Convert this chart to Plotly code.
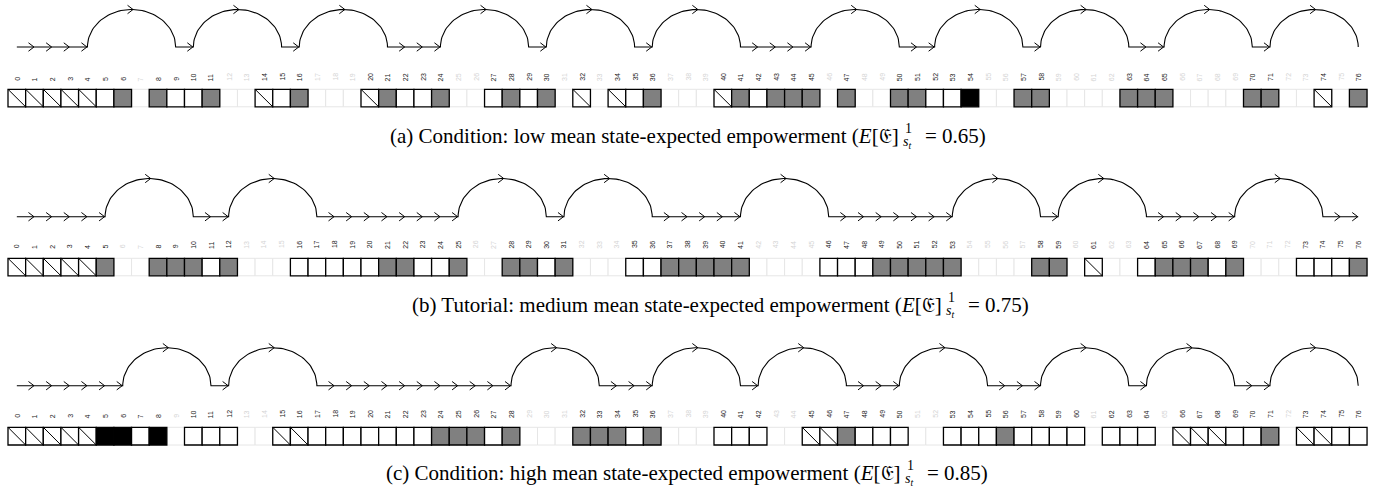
import numpy as np
import plotly.graph_objects as go

W, H = 1385, 489

# ---------------- data ----------------
N_CELLS = 77
cell_ids = list(range(N_CELLS))

# cell state codes: h = hatched, w = white, g = grey, k = black, n = inactive
states_a = list("hhhhhwgngw" "wgnnhwgnnn" "hgwwgnnwgw" "gnhnhwgnnn" "hgwgggngnn"
                "ggwwknnggn" "nnngggnnnn" "ggnnhng")
states_b = list("hhhhhgnngg" "gwgnnnwwww" "wggwwgnngg" "wgnnnwwggg" "ggnnnnwwwg"
                "ggggnnnngg" "nhnnwgggwg" "nnnwwwg")
states_c = list("hhhhhkkwkn" "wwwnnhhwww" "wwwwgggwgn" "nngggwgnnn" "wwwnnhhgww"
                "wnnwwwgwww" "wnwwwnhhhw" "wgnhhww")

# trajectory: indices where a 5-cell jump (arc) starts; all other moves are +1 steps
jump_len = 5
jumps_a = [4, 10, 16, 24, 30, 36, 45, 52, 58, 65, 71]
jumps_b = [5, 12, 25, 31, 41, 53, 59, 69]
jumps_c = [6, 12, 28, 36, 42, 50, 58, 64, 71]

cap_left = ["(a) Condition: low mean state-expected empowerment (<i>E</i>[\U0001D508]",
            "(b) Tutorial: medium mean state-expected empowerment (<i>E</i>[\U0001D508]",
            "(c) Condition: high mean state-expected empowerment (<i>E</i>[\U0001D508]"]
cap_values = ["0.65", "0.75", "0.85"]

# ---------------- layout constants ----------------
X0 = 8.0      # pixel x of left edge of cell 0
CW = 17.65    # pixel width of a cell

rows = [
    dict(states=states_a, jumps=jumps_a, base=47.0, top=9.5, lab=83.0,
         ct=89.3, cb=106.8, cap_y=136.0, capx=901),
    dict(states=states_b, jumps=jumps_b, base=216.7, top=178.5, lab=250.5,
         ct=258.3, cb=275.8, cap_y=304.5, capx=944),
    dict(states=states_c, jumps=jumps_c, base=385.7, top=347.7, lab=420.0,
         ct=427.3, cb=445.0, cap_y=473.0, capx=903),
]

FILL = {"h": "white", "w": "white", "g": "#808080", "k": "black", "n": "white"}

fig = go.Figure()
shapes = []
annotations = []


def px2u(dpx):
    return dpx / CW


for r in rows:
    states = r["states"]
    # ---- cells: inactive first, then active (so black borders stay on top)
    for pass_active in (False, True):
        for i, s in zip(cell_ids, states):
            active = s != "n"
            if active != pass_active:
                continue
            shapes.append(dict(
                type="rect", xref="x", yref="y", x0=i, x1=i + 1, y0=r["ct"], y1=r["cb"],
                fillcolor=FILL[s],
                line=dict(color="black" if active else "#e6e6e6", width=1.3 if active else 1.0),
                layer="above"))
            if s == "h":
                shapes.append(dict(
                    type="line", xref="x", yref="y", x0=i, x1=i + 1, y0=r["ct"], y1=r["cb"],
                    line=dict(color="black", width=1.0), layer="above"))
    # ---- labels
    for i, s in zip(cell_ids, states):
        annotations.append(dict(
            x=i + 0.5, y=r["lab"], xref="x", yref="y", text=str(i), showarrow=False,
            textangle=-90, xanchor="center", yanchor="bottom",
            font=dict(family="Liberation Sans", size=7,
                      color="#1a1a1a" if s != "n" else "#d4d4d4")))

    # ---- trajectory
    base = r["base"]
    hgt = base - r["top"]
    px, py = [0.5], [base]
    cx, cy = [], []

    def chevron(xt, yt):
        cx.extend([xt - px2u(5.5), xt, xt - px2u(5.5), None])
        cy.extend([yt - 4.2, yt, yt + 4.2, None])

    pos = 0
    jset = set(r["jumps"])
    while pos < N_CELLS - 1:
        if pos in jset:
            a = jump_len / 2.0
            xc = pos + 0.5 + a
            t = np.linspace(0, np.pi, 60)
            px.extend(list(xc - a * np.cos(t)))
            py.extend(list(base - hgt * np.sin(t)))
            chevron(xc + px2u(1.5), base - hgt)
            pos += jump_len
        else:
            px.append(pos + 1.5)
            py.append(base)
            chevron(pos + 1.5 - px2u(0.5), base)
            pos += 1
    fig.add_trace(go.Scatter(x=px, y=py, mode="lines", line=dict(color="black", width=1.1),
                             hoverinfo="skip", showlegend=False))
    fig.add_trace(go.Scatter(x=cx, y=cy, mode="lines", line=dict(color="black", width=1.0),
                             hoverinfo="skip", showlegend=False))

# ---- captions
serif = "Liberation Serif"
for k, r in enumerate(rows):
    xr = (r["capx"] - X0) / CW
    annotations.append(dict(x=xr, y=r["cap_y"], xref="x", yref="y", text=cap_left[k],
                            showarrow=False, xanchor="right", yanchor="middle",
                            font=dict(family=serif, size=21, color="black")))
    annotations.append(dict(x=xr + px2u(1.5), y=r["cap_y"] - 7.5, xref="x", yref="y", text="1",
                            showarrow=False, xanchor="left", yanchor="middle",
                            font=dict(family=serif, size=14, color="black")))
    annotations.append(dict(x=xr + px2u(0), y=r["cap_y"] + 6.5, xref="x", yref="y",
                            text="<i>s</i><sub><i>t</i></sub>",
                            showarrow=False, xanchor="left", yanchor="middle",
                            font=dict(family=serif, size=14, color="black")))
    annotations.append(dict(x=xr + px2u(22), y=r["cap_y"], xref="x", yref="y",
                            text="= " + cap_values[k] + ")",
                            showarrow=False, xanchor="left", yanchor="middle",
                            font=dict(family=serif, size=21, color="black")))

fig.update_layout(
    width=W, height=H, margin=dict(l=0, r=0, t=0, b=0),
    paper_bgcolor="white", plot_bgcolor="white",
    xaxis=dict(range=[-X0 / CW, (W - X0) / CW], visible=False, fixedrange=True),
    yaxis=dict(range=[H, 0], visible=False, fixedrange=True),
    shapes=shapes, annotations=annotations, showlegend=False,
)
fig.write_html("out.html", config={"displayModeBar": False},
               post_script="document.body.style.margin='0px';")
